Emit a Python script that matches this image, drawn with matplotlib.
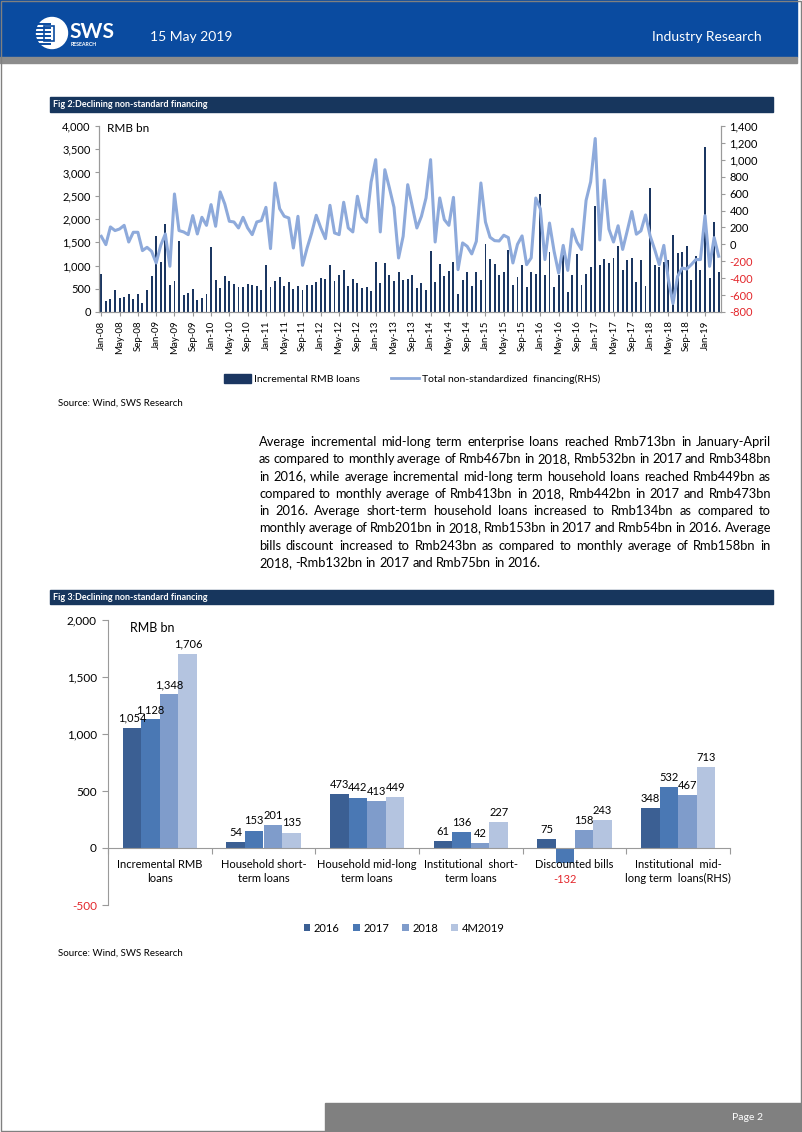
import matplotlib
matplotlib.use('Agg')
import matplotlib.pyplot as plt
from matplotlib.patches import Rectangle, Circle, Patch
from matplotlib.lines import Line2D
import numpy as np

plt.rcParams['font.family'] = ['Lato', 'DejaVu Sans']

W, H = 802, 1132

# ---- Fig 2 data (monthly, Jan-08 .. Apr-19), RMB bn ----
rmb_loans = [
    809, 238, 289, 469, 310, 332, 383, 274, 383, 188, 469, 765,
    1625, 1083, 1899, 585, 671, 1530, 368, 404, 505, 253, 296, 383,
    1393, 693, 513, 765, 657, 600, 527, 541, 600, 580, 563, 469,
    1018, 527, 664, 744, 549, 635, 491, 549, 469, 585, 570, 635,
    729, 708, 1004, 671, 787, 910, 549, 708, 621, 513, 527, 455,
    1069, 621, 1054, 787, 671, 852, 693, 708, 794, 513, 621, 469,
    1307, 635, 1040, 765, 874, 1069, 383, 693, 852, 549, 852, 693,
    1460, 1140, 1030, 800, 860, 1330, 580, 760, 1020, 540, 870, 820,
    2530, 785, 1294, 538, 785, 1221, 436, 785, 1243, 581, 821, 968,
    2290, 1004, 1148, 1062, 1163, 1425, 894, 1127, 1163, 641, 1112, 553,
    2675, 1004, 968, 1076, 1112, 1650, 1273, 1294, 1419, 690, 1200, 909,
    3548, 726, 1926, 860,
]
non_std = [
    95, -3, 206, 163, 182, 225, 28, 143, 143, -74, -35, -82,
    -220, -11, 123, -259, 596, 163, 147, 115, 340, 123, 320, 225,
    470, 214, 620, 478, 273, 265, 194, 320, 194, 115, 265, 281,
    438, -50, 726, 422, 332, 312, -43, 332, -248, -43, 135, 344,
    194, 68, 462, 135, 115, 498, 194, 147, 569, 320, 261, 737,
    1002, 147, 883, 667, 438, -161, 95, 706, 450, 194, 332, 549,
    1002, 28, 549, 293, 225, 556, -299, 17, -23, -113, 36, 726,
    265, 84, 44, 40, 108, 80, -220, 0, 100, -240, -160, 548,
    420, -180, 252, -80, -340, -12, -308, 180, 28, -60, 520, 740,
    1252, 52, 760, 180, 28, 220, -60, 160, 388, 120, 160, 348,
    100, -60, -240, -12, -420, -700, -380, -280, -292, -240, -180, -180,
    340, -260, 80, -140,
]
month_names = ['Jan', 'Feb', 'Mar', 'Apr', 'May', 'Jun',
               'Jul', 'Aug', 'Sep', 'Oct', 'Nov', 'Dec']
years = ['08', '09', '10', '11', '12', '13', '14', '15', '16', '17', '18', '19']
month_labels = [m + '-' + y for y in years for m in month_names][:len(rmb_loans)]

# ---- Fig 3 data ----
categories = ['Incremental RMB\nloans', 'Household short-\nterm loans',
              'Household mid-long\nterm loans', 'Institutional  short-\nterm loans',
              'Discounted bills', 'Institutional  mid-\nlong term  loans(RHS)']
series_names = ['2016', '2017', '2018', '4M2019']
v2016 = [1054, 54, 473, 61, 75, 348]
v2017 = [1128, 153, 442, 136, -132, 532]
v2018 = [1348, 201, 413, 42, 158, 467]
v2019 = [1706, 135, 449, 227, 243, 713]

para_lines = [
    "Average incremental mid-long term enterprise loans reached Rmb713bn in January-April",
    "as compared to monthly average of Rmb467bn in 2018, Rmb532bn in 2017 and Rmb348bn",
    "in 2016, while average incremental mid-long term household loans reached Rmb449bn as",
    "compared to monthly average of Rmb413bn in 2018, Rmb442bn in 2017 and Rmb473bn",
    "in 2016. Average short-term household loans increased to Rmb134bn as compared to",
    "monthly average of Rmb201bn in 2018, Rmb153bn in 2017 and Rmb54bn in 2016. Average",
    "bills discount increased to Rmb243bn as compared to monthly average of Rmb158bn in",
    "2018, -Rmb132bn in 2017 and Rmb75bn in 2016.",
]

NAVY = '#1B3661'
LINE = '#8EAADB'
GRAY = '#9A9A9A'
RED = '#E3262B'
bar_colors = ['#3B5F93', '#4A78B4', '#7F9CCB', '#B4C4E0']


def px_axes(x0, y0, x1, y1):
    return fig.add_axes([x0 / W, 1 - y1 / H, (x1 - x0) / W, (y1 - y0) / H])


fig = plt.figure(figsize=(W / 100, H / 100), dpi=100)
bg = fig.add_axes([0, 0, 1, 1])
bg.set_xlim(0, W)
bg.set_ylim(H, 0)
bg.axis('off')

# header
bg.add_patch(Rectangle((0, 0), 797, 57, color='#0A4BA0'))
bg.add_patch(Rectangle((0, 57), 797, 6, color='#8C8C8C'))
bg.add_patch(Circle((52, 33), 15.5, color='white'))
for yy in [24, 28, 32, 36, 40, 44]:
    bg.plot([35, 50], [yy, yy], color='#0A4BA0', lw=1.4)
bg.add_patch(Rectangle((44, 26), 10, 15, fc='white', ec='#0A4BA0', lw=1.2))
bg.text(69, 32, 'SWS', color='white', fontsize=15, fontweight='bold', va='center')
bg.text(71, 45, 'RESEARCH', color='white', fontsize=3.8, fontweight='bold', va='center')
bg.text(150, 37, '15 May 2019', color='white', fontsize=10, va='center')
bg.text(762, 37, 'Industry Research', color='white', fontsize=10, va='center', ha='right')

# page border
bg.add_patch(Rectangle((0.5, 0.5), 800.5, 1130.5, fill=False, ec='#808080', lw=1))

# title bars
bg.add_patch(Rectangle((50, 97), 723, 15, color='#17365D'))
bg.text(53, 104.5, 'Fig 2:Declining non-standard financing', color='white',
        fontsize=6.5, fontweight='bold', va='center')
bg.add_patch(Rectangle((50, 590), 723, 14, color='#17365D'))
bg.text(53, 597, 'Fig 3:Declining non-standard financing', color='white',
        fontsize=6.5, fontweight='bold', va='center')

# ---- Fig 2 chart ----
ax = px_axes(99, 126, 721, 312)
x = np.arange(len(rmb_loans))
ax.bar(x, rmb_loans, width=0.42, color=NAVY)
ax.set_xlim(-0.5, len(rmb_loans) - 0.5)
ax.set_ylim(0, 4000)
ax.set_yticks(range(0, 4001, 500))
ax.set_yticklabels([f'{v:,}' for v in range(0, 4001, 500)], fontsize=8)
ax.set_xticks(x[::4])
ax.set_xticklabels(month_labels[::4], rotation=90, fontsize=7)
ax2 = ax.twinx()
ax2.plot(x, non_std, color=LINE, lw=2.2)
ax2.set_ylim(-800, 1400)
rt = list(range(-800, 1401, 200))
ax2.set_yticks(rt)
ax2.set_yticklabels([f'{v:,}' for v in rt], fontsize=8)
for lab, v in zip(ax2.get_yticklabels(), rt):
    if v < 0:
        lab.set_color(RED)
for a in (ax, ax2):
    a.spines['top'].set_visible(False)
    for s in ('left', 'right', 'bottom'):
        a.spines[s].set_color(GRAY)
    a.tick_params(length=3, color=GRAY, pad=3)
ax.patch.set_alpha(0)
bg.text(107, 128, 'RMB bn', fontsize=8.5, va='center')

fig.legend(handles=[Patch(color=NAVY), Line2D([], [], color=LINE, lw=2)],
           labels=['Incremental RMB loans', 'Total non-standardized  financing(RHS)'],
           loc='center', bbox_to_anchor=(412 / W, 1 - 379 / H), ncol=2, frameon=False,
           fontsize=7.5, handlelength=2.6, handleheight=0.9, columnspacing=3.0,
           handletextpad=0.3)
bg.text(58, 403, 'Source: Wind, SWS Research', fontsize=7, va='center')

# ---- paragraph, justified ----
renderer = fig.canvas.get_renderer()
px0, px1 = 259, 771
probe = bg.text(0, 0, max(para_lines, key=len), fontsize=10)
natural = probe.get_window_extent(renderer).width
probe.remove()
fs = min(10.0, 10.0 * 500 / natural)
for n, line in enumerate(para_lines):
    yy = 442 + n * 17.3
    words = line.split()
    texts = [bg.text(0, yy, w, fontsize=fs, va='center') for w in words]
    widths = [t.get_window_extent(renderer).width for t in texts]
    if n < len(para_lines) - 1:
        gap = (px1 - px0 - sum(widths)) / (len(words) - 1)
    else:
        gap = fs * 0.35
    xx = px0
    for t, wd in zip(texts, widths):
        t.set_x(xx)
        xx += wd + gap

# ---- Fig 3 chart ----
ax3 = px_axes(108, 620, 730, 905)
k = np.arange(len(categories))
offs = [-0.27, -0.09, 0.09, 0.27]
for vals, off, col, name in zip([v2016, v2017, v2018, v2019], offs, bar_colors, series_names):
    ax3.bar(k + off, vals, width=0.18, color=col, label=name)
    for xi, v in zip(k + off, vals):
        if v >= 0:
            ax3.annotate(f'{v:,}', (xi, v), xytext=(0, 3), textcoords='offset points',
                         ha='center', va='bottom', fontsize=8)
        else:
            ax3.annotate(f'{v:,}', (xi, v), xytext=(0, -8), textcoords='offset points',
                         ha='center', va='top', fontsize=8, color=RED)
ax3.set_xlim(-0.5, len(categories) - 0.5)
ax3.set_ylim(-500, 2000)
yt = list(range(-500, 2001, 500))
ax3.set_yticks(yt)
ax3.set_yticklabels([f'{v:,}' for v in yt], fontsize=8.5)
for lab, v in zip(ax3.get_yticklabels(), yt):
    if v < 0:
        lab.set_color(RED)
ax3.spines['top'].set_visible(False)
ax3.spines['right'].set_visible(False)
ax3.spines['bottom'].set_position(('data', 0))
ax3.spines['left'].set_color(GRAY)
ax3.spines['bottom'].set_color(GRAY)
ax3.set_xticks(np.arange(-0.5, len(categories), 1))
ax3.set_xticklabels([])
ax3.tick_params(length=4, color=GRAY, pad=4)
ax3.patch.set_alpha(0)
for xi, c in zip(k, categories):
    ax3.text(xi, -95, c, ha='center', va='top', fontsize=8, linespacing=1.4)
bg.text(130, 628, 'RMB bn', fontsize=9, va='center')

h3, l3 = ax3.get_legend_handles_labels()
fig.legend(h3, l3, loc='center', bbox_to_anchor=(404 / W, 1 - 928 / H), ncol=4,
           frameon=False, fontsize=8, handlelength=0.6, handleheight=0.6,
           handletextpad=0.3, columnspacing=1.2)
bg.text(58, 953, 'Source: Wind, SWS Research', fontsize=7, va='center')

# footer
bg.add_patch(Rectangle((325, 1103), 477, 29, color='#808080'))
bg.text(763, 1117, 'Page 2', color='white', fontsize=7.5, ha='right', va='center')

fig.savefig('out.png', dpi=100)
